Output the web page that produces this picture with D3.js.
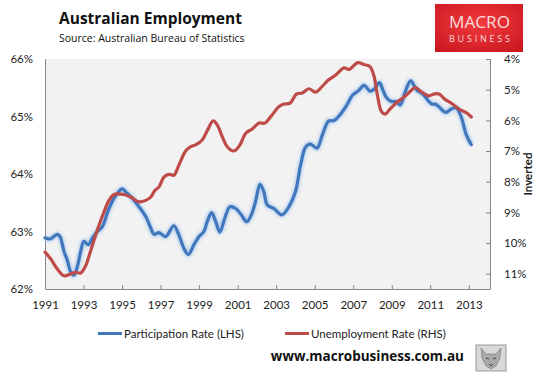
<!DOCTYPE html>
<html><head><meta charset="utf-8">
<script src="https://cdn.jsdelivr.net/npm/d3@7"></script>
<style>
html,body{margin:0;padding:0;background:#fff;}
svg text{font-family:"Open Sans","Noto Sans",sans-serif;}
</style></head>
<body><svg id="c" width="542" height="385"></svg>
<script>
// Participation rate (LHS, %), [year, value]
const participation = [
[1991.0,62.89],[1991.26,62.87],[1991.64,62.95],[1991.78,62.91],[1991.99,62.65],[1992.16,62.50],
[1992.33,62.30],[1992.50,62.24],[1992.68,62.39],[1992.85,62.65],[1993.02,62.83],[1993.25,62.77],
[1993.45,62.88],[1993.71,63.00],[1993.97,63.08],[1994.23,63.32],[1994.49,63.52],[1994.75,63.66],
[1995.01,63.74],[1995.27,63.66],[1995.53,63.58],[1995.88,63.43],[1996.23,63.26],[1996.49,63.06],
[1996.66,62.95],[1996.92,62.98],[1997.26,62.91],[1997.69,63.10],[1997.95,62.94],[1998.21,62.71],
[1998.44,62.60],[1998.73,62.77],[1998.99,62.91],[1999.25,63.00],[1999.42,63.17],[1999.65,63.33],
[1999.86,63.17],[2000.08,62.99],[2000.33,63.23],[2000.60,63.43],[2000.90,63.40],[2001.19,63.29],
[2001.47,63.17],[2001.71,63.29],[2001.93,63.52],[2002.16,63.82],[2002.36,63.69],[2002.54,63.46],
[2002.88,63.40],[2003.30,63.29],[2003.66,63.43],[2004.00,63.69],[2004.27,64.16],[2004.53,64.47],
[2004.78,64.52],[2005.12,64.45],[2005.40,64.68],[2005.72,64.92],[2006.00,64.93],[2006.36,65.05],
[2006.67,65.20],[2006.96,65.37],[2007.28,65.45],[2007.56,65.54],[2007.88,65.44],[2008.10,65.48],
[2008.36,65.59],[2008.54,65.46],[2008.72,65.33],[2008.98,65.26],[2009.23,65.26],[2009.44,65.20],
[2009.70,65.43],[2009.98,65.62],[2010.30,65.46],[2010.61,65.39],[2011.06,65.22],[2011.30,65.21],
[2011.53,65.14],[2011.80,65.07],[2012.08,65.13],[2012.34,65.15],[2012.60,65.00],[2012.86,64.69],
[2013.13,64.51]
];
// Unemployment rate (RHS, %, inverted axis), [year, value]
const unemployment = [
[1991.0,10.30],[1991.30,10.52],[1991.64,10.85],[1991.99,11.07],[1992.33,11.01],[1992.59,10.96],
[1992.85,10.98],[1993.11,10.74],[1993.37,10.25],[1993.71,9.59],[1994.06,8.99],[1994.32,8.61],
[1994.58,8.42],[1995.10,8.42],[1995.45,8.50],[1995.88,8.66],[1996.23,8.61],[1996.49,8.50],
[1996.71,8.28],[1996.92,8.17],[1997.18,7.84],[1997.43,7.76],[1997.69,7.79],[1997.95,7.46],
[1998.30,7.00],[1998.56,6.86],[1998.82,6.80],[1999.16,6.64],[1999.42,6.34],[1999.73,6.02],
[1999.94,6.15],[2000.20,6.53],[2000.46,6.86],[2000.81,7.00],[2001.12,6.80],[2001.42,6.42],
[2001.76,6.28],[2002.11,6.09],[2002.42,6.09],[2002.72,5.88],[2003.15,5.55],[2003.41,5.47],
[2003.72,5.44],[2004.06,5.14],[2004.35,5.11],[2004.70,4.97],[2005.05,5.08],[2005.39,4.89],
[2005.74,4.67],[2006.08,4.53],[2006.52,4.29],[2006.78,4.34],[2007.24,4.12],[2007.55,4.18],
[2007.87,4.25],[2008.07,4.54],[2008.25,5.16],[2008.46,5.71],[2008.65,5.80],[2008.93,5.62],
[2009.27,5.41],[2009.62,5.25],[2009.94,5.07],[2010.22,4.93],[2010.56,5.08],[2010.91,5.20],
[2011.21,5.14],[2011.46,5.14],[2011.73,5.30],[2012.12,5.45],[2012.51,5.64],[2012.86,5.75],
[2013.13,5.89]
];
const xTicks = [1991,1993,1995,1997,1999,2001,2003,2005,2007,2009,2011,2013];
const leftTicks = [62,63,64,65,66];
const rightTicks = [4,5,6,7,8,9,10,11];
const seriesNames = ["Participation Rate (LHS)","Unemployment Rate (RHS)"];
const title = "Australian Employment";
const subtitle = "Source: Australian Bureau of Statistics";

const svg = d3.select("#c");
const L=45, R=490, T=59, B=289;
const x = d3.scaleLinear().domain([1991,2014.1]).range([L,R]);
const yL = d3.scaleLinear().domain([62,66]).range([B,T]);
const yR = d3.scaleLinear().domain([4,11.5]).range([T,B]);
const axisCol="#868686", textCol="#222";
const smallFont = "Lato,'Open Sans',sans-serif";

const defs = svg.append("defs");
defs.append("filter").attr("id","glow").attr("x","-5%").attr("y","-5%").attr("width","110%").attr("height","110%")
  .append("feGaussianBlur").attr("stdDeviation",1.5);
const lg = defs.append("radialGradient").attr("id","logo").attr("cx","50%").attr("cy","40%").attr("r","75%");
lg.append("stop").attr("offset","0%").attr("stop-color","#f23a3f");
lg.append("stop").attr("offset","100%").attr("stop-color","#c9171e");

// plot background
svg.append("rect").attr("x",L).attr("y",T).attr("width",R-L).attr("height",B-T).attr("fill","#f2f2f2");

// axes
const gx = svg.append("g").attr("transform",`translate(0,${B})`)
  .call(d3.axisBottom(x).tickValues(xTicks).tickFormat(d3.format("d")).tickSizeInner(-4).tickSizeOuter(0).tickPadding(16));
const gl = svg.append("g").attr("transform",`translate(${L},0)`)
  .call(d3.axisLeft(yL).tickValues(leftTicks).tickFormat(d=>d+"%").tickSize(0).tickPadding(12));
const gr = svg.append("g").attr("transform",`translate(${R},0)`)
  .call(d3.axisRight(yR).tickValues(rightTicks).tickFormat(d=>d+"%").tickSizeInner(-4).tickSizeOuter(0).tickPadding(14));
[gx,gl,gr].forEach(g=>{
  g.select(".domain").attr("stroke",axisCol).attr("stroke-width",1);
  g.selectAll(".tick line").attr("stroke",axisCol);
  g.selectAll(".tick text").attr("fill",textCol).style("font-size","11.5px").style("font-family",smallFont);
});
gl.select(".domain").attr("d",`M0.5,${B}V${T}`);
gr.select(".domain").attr("d",`M0.5,${T}V${B}`);
gx.selectAll(".tick text").attr("dy","0.35em");

const lineL = d3.line().x(d=>x(d[0])).y(d=>yL(d[1])).curve(d3.curveCatmullRom.alpha(0.5));
const lineR = d3.line().x(d=>x(d[0])).y(d=>yR(d[1])).curve(d3.curveCatmullRom.alpha(0.5));

svg.append("path").datum(participation).attr("d",lineL).attr("fill","none")
  .attr("stroke","#a9c8ee").attr("stroke-width",6).attr("stroke-opacity",0.75).attr("filter","url(#glow)").attr("stroke-linejoin","round");
svg.append("path").datum(participation).attr("d",lineL).attr("fill","none")
  .attr("stroke","#4177bd").attr("stroke-width",3.2).attr("stroke-linejoin","round").attr("stroke-linecap","round");
svg.append("path").datum(unemployment).attr("d",lineR).attr("fill","none")
  .attr("stroke","#be4b48").attr("stroke-width",3.2).attr("stroke-linejoin","round").attr("stroke-linecap","round");

// right axis title
svg.append("text").attr("transform","translate(532,174) rotate(-90)").attr("text-anchor","middle")
  .style("font-size","11.5px").style("font-weight","bold").style("font-family",smallFont).attr("fill",textCol).text("Inverted");

// title
svg.append("text").attr("x",59).attr("y",24).style("font-size","15.5px").style("font-weight","bold").attr("fill","#111").text(title);
svg.append("text").attr("x",59).attr("y",42).style("font-size","10.5px").attr("fill","#111").text(subtitle);

// logo
svg.append("rect").attr("x",435).attr("y",4).attr("width",88).attr("height",48).attr("fill","url(#logo)");
svg.append("text").attr("x",479.5).attr("y",27.5).attr("text-anchor","middle").style("font-size","15.5px")
  .style("font-family","'Open Sans',sans-serif").style("font-weight","normal")
  .attr("fill","#f7dede").attr("textLength",61).attr("lengthAdjust","spacingAndGlyphs").text("MACRO");
svg.append("text").attr("x",479.5).attr("y",41.5).attr("text-anchor","middle").style("font-size","9px")
  .attr("fill","#f7dede").attr("textLength",61).text("BUSINESS");

// legend
const legend = [{n:seriesNames[0],c:"#4177bd",x0:98,tx:124},{n:seriesNames[1],c:"#be4b48",x0:285,tx:311}];
legend.forEach(l=>{
  svg.append("line").attr("x1",l.x0).attr("x2",l.x0+24).attr("y1",333.5).attr("y2",333.5).attr("stroke",l.c).attr("stroke-width",3);
  svg.append("text").attr("x",l.tx).attr("y",337.5).style("font-size","11.5px").style("font-family",smallFont).attr("fill",textCol).text(l.n);
});

// url
svg.append("text").attr("x",464).attr("y",360.5).attr("text-anchor","end").style("font-size","13.5px").style("font-weight","bold")
  .attr("fill","#111").text("www.macrobusiness.com.au");

// wolf thumbnail
const w = svg.append("g").attr("transform","translate(476,345)");
w.append("rect").attr("width",30).attr("height",26).attr("fill","#d8d8d8").attr("stroke","#9a9a9a");
w.append("path").attr("d","M5,3 L10,9 L20,9 L25,3 L24,13 L20,21 L15,24 L10,21 L6,13 Z").attr("fill","#a9a9a9").attr("stroke","#777").attr("stroke-width",0.6);
w.append("path").attr("d","M10,13 L13,14 M17,14 L20,13 M13,19 L15,21 L17,19").attr("stroke","#444").attr("stroke-width",1).attr("fill","none");
</script></body></html>
